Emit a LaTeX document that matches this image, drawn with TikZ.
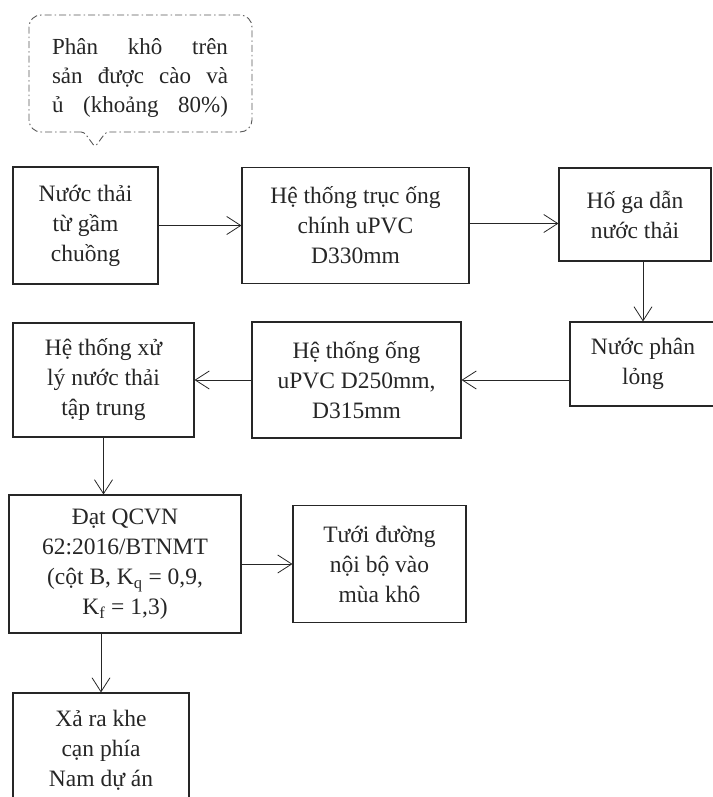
\documentclass[tikz,border=0pt]{standalone}
\usepackage{fontspec}
\setmainfont{Liberation Serif}
\usetikzlibrary{arrows.meta, calc}
\tikzset{
  flow box/.style={
    draw=black!85,
    line width=1.1pt,
    align=center,
    inner sep=2pt,
    text=black!85,
    font=\fontsize{23.5}{30}\selectfont
  },
  flow arrow/.style={
    -{Straight Barb[length=14pt, width=18pt, line width=0.8pt]},
    line width=0.9pt,
    color=black!85
  },
  bubble line/.style={
    draw=black!65,
    line width=0.9pt,
    dash pattern=on 7pt off 3pt on 1.5pt off 3pt
  },
  bubble text/.style={
    align=left,
    inner sep=0pt,
    text=black!85,
    font=\fontsize{23}{29}\selectfont
  }
}

\begin{document}
\begin{tikzpicture}[x=1pt, y=-1pt]
    \useasboundingbox (0,0) rectangle (712,797);

    % ghi chú (khung lời thoại)
    \draw[bubble line] (84,132) [rounded corners=12pt] -- (29,132) -- (29,15) -- (252,15) -- (252,132) [rounded corners=3pt] -- (106,132) -- (95,147) -- cycle;
    \node[bubble text] (Bubble) at (140,78)
      {\makebox[176pt][s]{Phân khô trên}\\
       \makebox[176pt][s]{sản được cào và}\\
       \makebox[176pt][s]{ủ (khoảng 80\%)}};

    % hàng 1
    \node[flow box, minimum width=145pt, minimum height=117pt] (WasteWater) at (85.5,225.5) {Nước thải\\từ gầm\\chuồng};
    \node[flow box, minimum width=227pt, minimum height=116pt] (MainPipe) at (355.5,225.5) {Hệ thống trục ống\\chính uPVC\\D330mm};
    \node[flow box, minimum width=152pt, minimum height=93pt] (Manhole) at (635,214.5) {Hố ga dẫn\\nước thải};

    % hàng 2
    \node[flow box, minimum width=146pt, minimum height=84pt] (Settled) at (643,364) {Nước phân\\lỏng};
    \node[flow box, minimum width=209pt, minimum height=116pt] (BranchPipe) at (356.5,380) {Hệ thống ống\\uPVC D250mm,\\D315mm};
    \node[flow box, minimum width=181pt, minimum height=114pt] (Treatment) at (103.5,380) {Hệ thống xử\\lý nước thải\\tập trung};

    % hàng 3, 4
    \node[flow box, minimum width=232pt, minimum height=138pt] (Standard) at (125,564) {Đạt QCVN\\62:2016/BTNMT\\(cột B, K\textsubscript{q} = 0,9,\\K\textsubscript{f} = 1,3)};
    \node[flow box, minimum width=173pt, minimum height=117pt] (Watering) at (379.5,564) {Tưới đường\\nội bộ vào\\mùa khô};
    \node[flow box, minimum width=176pt, minimum height=114pt] (Discharge) at (101,750) {Xả ra khe\\cạn phía\\Nam dự án};

    % mũi tên
    \draw[flow arrow] (WasteWater.east) -- (MainPipe.west);
    \draw[flow arrow] ($(MainPipe.east)+(0,-2)$) -- ($(MainPipe.east -| Manhole.west)+(0,-2)$);
    \draw[flow arrow] (Manhole.south -| Settled.north) -- (Settled.north);
    \draw[flow arrow] (Settled.west |- BranchPipe.east) -- (BranchPipe.east);
    \draw[flow arrow] (BranchPipe.west) -- (BranchPipe.west -| Treatment.east);
    \draw[flow arrow] (Treatment.south) -- (Treatment.south |- Standard.north);
    \draw[flow arrow] (Standard.east) -- (Standard.east -| Watering.west);
    \draw[flow arrow] (Discharge.north |- Standard.south) -- (Discharge.north);

\end{tikzpicture}
\end{document}
